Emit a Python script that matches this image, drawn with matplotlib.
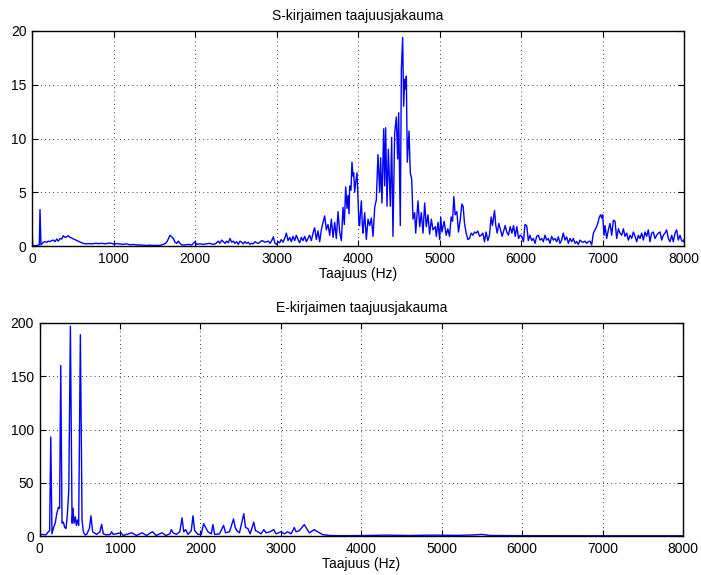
# plot.py
#
# Kaksi taajuusjakaumaa (S- ja E-kirjain) MATLAB-tyylisinä kuvina.
# Tallentaa kuvan tiedostoon out.png

import matplotlib
matplotlib.use("Agg")
import matplotlib.pyplot as plt

# ---------- S-kirjaimen spektri (luettu kuvasta) ----------
s_freq = [
    0, 8, 60, 90, 98, 110, 139, 160, 180, 200, 220, 240, 262, 282, 303, 323,
    344, 364, 384, 405, 425, 446, 466, 487, 507, 528, 548, 569, 589, 610, 630,
    650, 700, 740, 780, 820, 860, 900, 940, 977, 1000, 1040, 1080, 1120, 1160,
    1200, 1240, 1280, 1320, 1360, 1400, 1440, 1480, 1530, 1570, 1610, 1640,
    1660, 1693, 1715, 1735, 1755, 1775, 1796, 1815, 1840, 1880, 1920, 1960,
    2000, 2020, 2060, 2100, 2140, 2180, 2220, 2250, 2286, 2306, 2327, 2347,
    2368, 2388, 2409, 2429, 2450, 2470, 2490, 2511, 2531, 2552, 2572, 2593,
    2613, 2634, 2654, 2675, 2695, 2715, 2736, 2756, 2777, 2797, 2818, 2838,
    2859, 2879, 2900, 2920, 2941, 2961, 2981, 3002, 3018, 3039, 3059, 3080,
    3100, 3121, 3141, 3162, 3182, 3202, 3223, 3243, 3264, 3284, 3305, 3325,
    3346, 3366, 3387, 3407, 3428, 3448, 3468, 3489, 3509, 3530, 3550, 3571,
    3591, 3612, 3632, 3653, 3673, 3694, 3714, 3734, 3755, 3775, 3796, 3816,
    3832, 3849, 3865, 3877, 3890, 3898, 3914, 3926, 3939, 3947, 3959, 3971,
    3988, 4000, 4012, 4020, 4029, 4041, 4053, 4061, 4082, 4102, 4123, 4143,
    4164, 4184, 4205, 4225, 4245, 4266, 4278, 4294, 4315, 4327, 4339, 4356,
    4372, 4397, 4413, 4429, 4450, 4470, 4487, 4499, 4519, 4532, 4548, 4560,
    4573, 4585, 4593, 4605, 4626, 4642, 4659, 4675, 4695, 4708, 4736, 4757,
    4777, 4798, 4818, 4838, 4859, 4879, 4900, 4920, 4949, 4961, 4982, 5002,
    5015, 5030, 5057, 5082, 5102, 5123, 5143, 5160, 5176, 5192, 5213, 5233,
    5254, 5274, 5290, 5307, 5327, 5348, 5368, 5389, 5409, 5430, 5450, 5470,
    5491, 5511, 5532, 5552, 5572, 5593, 5613, 5634, 5650, 5675, 5691, 5708,
    5728, 5749, 5769, 5806, 5826, 5847, 5867, 5888, 5908, 5929, 5949, 5970,
    5990, 6010, 6030, 6049, 6070, 6090, 6110, 6131, 6151, 6172, 6192, 6213,
    6233, 6254, 6274, 6294, 6315, 6335, 6356, 6376, 6397, 6417, 6438, 6458,
    6478, 6499, 6519, 6540, 6560, 6581, 6601, 6622, 6642, 6663, 6683, 6704,
    6724, 6744, 6765, 6785, 6806, 6826, 6847, 6867, 6888, 6908, 6928, 6949,
    6961, 6977, 6990, 7002, 7018, 7031, 7051, 7072, 7092, 7113, 7133, 7154,
    7174, 7195, 7215, 7236, 7256, 7276, 7297, 7317, 7338, 7358, 7379, 7399,
    7420, 7440, 7460, 7481, 7501, 7522, 7542, 7562, 7583, 7603, 7624, 7644,
    7665, 7685, 7706, 7726, 7746, 7767, 7787, 7808, 7828, 7849, 7869, 7890,
    7910, 7930, 7951, 7971, 7992, 8000,
]
s_amp = [
    2.1, 0.0, 0.05, 0.1, 3.4, 0.1, 0.35, 0.4, 0.35, 0.45, 0.4, 0.5, 0.55, 0.4,
    0.65, 0.45, 0.7, 0.65, 0.95, 0.8, 0.85, 0.95, 0.8, 0.75, 0.65, 0.6, 0.5,
    0.45, 0.37, 0.3, 0.25, 0.2, 0.22, 0.2, 0.25, 0.22, 0.25, 0.2, 0.27, 0.25,
    0.18, 0.22, 0.18, 0.15, 0.2, 0.12, 0.14, 0.1, 0.1, 0.08, 0.05, 0.08, 0.05,
    0.06, 0.05, 0.15, 0.25, 0.45, 1.0, 0.85, 0.7, 0.35, 0.25, 0.45, 0.25, 0.1,
    0.1, 0.15, 0.1, 0.4, 0.15, 0.2, 0.15, 0.2, 0.25, 0.15, 0.2, 0.45, 0.25,
    0.55, 0.4, 0.25, 0.45, 0.3, 0.7, 0.35, 0.45, 0.25, 0.4, 0.15, 0.45, 0.35,
    0.2, 0.4, 0.25, 0.35, 0.15, 0.25, 0.2, 0.4, 0.3, 0.25, 0.35, 0.5, 0.45,
    0.35, 0.4, 0.45, 0.25, 0.5, 0.85, 0.25, 0.15, 0.4, 0.3, 0.6, 0.35, 0.7,
    1.2, 0.5, 0.8, 0.4, 0.9, 0.5, 1.0, 0.6, 0.3, 0.8, 0.5, 0.9, 0.4, 0.7, 1.0,
    0.5, 1.2, 1.7, 0.6, 1.4, 0.4, 1.5, 2.2, 2.8, 1.5, 2.0, 1.0, 2.5, 0.8, 2.2,
    0.7, 3.2, 1.3, 0.5, 3.6, 2.0, 5.5, 3.5, 4.7, 3.0, 5.6, 5.2, 7.8, 6.5, 6.8,
    5.0, 5.9, 6.8, 4.3, 2.0, 1.9, 3.0, 4.2, 2.0, 1.2, 3.1, 0.6, 2.5, 1.9, 2.6,
    0.9, 3.6, 4.3, 8.5, 5.0, 8.2, 4.0, 10.9, 5.6, 11.0, 3.7, 9.0, 3.7, 10.1,
    0.9, 10.5, 12.0, 8.1, 12.4, 1.9, 16.4, 19.4, 13.0, 15.5, 14.6, 15.8, 7.8,
    10.7, 6.8, 6.2, 2.5, 3.1, 1.2, 4.2, 1.8, 3.1, 1.2, 4.0, 1.8, 2.9, 1.1, 2.5,
    1.5, 1.8, 0.9, 2.2, 0.6, 2.7, 1.3, 2.3, 1.0, 1.6, 0.9, 2.7, 2.3, 4.6, 2.9,
    3.2, 1.3, 2.4, 3.9, 3.7, 2.1, 1.2, 0.6, 0.7, 1.2, 1.0, 1.3, 1.2, 1.4, 0.9,
    1.0, 1.2, 0.4, 1.3, 0.5, 1.0, 2.7, 1.9, 3.3, 1.9, 1.2, 2.1, 1.5, 0.9, 1.9,
    1.3, 1.0, 1.8, 1.2, 1.9, 0.9, 1.8, 0.7, 1.0, 0.9, 0.4, 2.0, 1.9, 0.5, 1.0,
    0.5, 0.7, 0.25, 0.9, 1.0, 0.55, 0.7, 0.4, 1.0, 0.55, 0.7, 0.25, 0.9, 0.55,
    0.7, 0.4, 0.85, 0.25, 0.55, 1.2, 0.55, 0.85, 0.25, 0.7, 0.4, 0.7, 0.25, 0.4,
    0.15, 0.55, 0.4, 0.35, 0.45, 0.25, 0.4, 0.45, 0.1, 1.2, 1.5, 1.8, 2.3, 2.7,
    2.9, 2.6, 2.9, 1.0, 1.9, 0.7, 1.5, 2.1, 1.0, 2.4, 2.3, 0.7, 1.6, 1.2, 1.0,
    1.6, 0.9, 1.2, 0.55, 1.0, 0.7, 1.3, 0.9, 0.4, 1.0, 0.7, 1.2, 0.55, 1.3, 0.9,
    1.5, 0.4, 1.2, 1.3, 0.7, 1.0, 1.2, 1.3, 0.55, 1.0, 1.2, 1.5, 0.7, 0.4, 1.0,
    0.4, 1.2, 1.5, 0.55, 1.0, 0.5, 0.4, 0.6,
]

# ---------- E-kirjaimen spektri (luettu kuvasta) ----------
e_freq = [
    0, 40, 80, 110, 126, 140, 155, 175, 195, 215, 235, 250, 264, 280, 297, 313,
    330, 347, 364, 384, 405, 417, 429, 446, 458, 471, 487, 508, 529, 545, 566,
    587, 620, 640, 660, 710, 752, 772, 793, 834, 880, 896, 917, 1012, 1041,
    1148, 1206, 1276, 1330, 1404, 1450, 1524, 1570, 1620, 1640, 1661, 1702,
    1744, 1772, 1793, 1817, 1846, 1887, 1908, 1929, 1970, 2011, 2040, 2065,
    2094, 2136, 2156, 2177, 2238, 2288, 2313, 2362, 2412, 2433, 2453, 2486,
    2540, 2561, 2590, 2619, 2664, 2685, 2714, 2755, 2788, 2817, 2866, 2912,
    2941, 3003, 3044, 3085, 3126, 3168, 3189, 3230, 3292, 3313, 3354, 3416,
    3457, 3520, 3600, 3700, 4000, 4300, 4600, 4900, 5200, 5400, 5500, 5600,
    6000, 7000, 8000,
]
e_amp = [
    1, 1.5, 1, 4, 5, 93, 2, 8, 12, 21, 27, 26, 160, 12, 13, 8, 7, 21, 43, 197,
    12, 26, 12, 18, 10, 15, 10, 189, 15, 4, 1, 1.5, 7, 19, 4, 1.5, 4, 11, 2, 1,
    1.5, 4, 1.5, 3, 0.5, 3, 0.5, 3, 0.5, 4, 0.5, 3, 0.5, 2, 6, 3, 1.5, 4, 17,
    4, 6, 1.5, 5, 19, 5, 1.5, 1.5, 11.6, 8, 4, 2, 10.7, 1.5, 2, 10, 3, 4, 16,
    8, 5, 3, 21, 8, 7, 2, 13, 5, 4, 2, 6, 3, 4, 6, 2, 4, 2, 4, 2, 8, 4, 5,
    10.7, 8, 3, 6, 4, 1.3, 0.5, 0.3, 0.4, 0.8, 0.5, 0.8, 0.6, 1.0, 1.5, 0.5,
    0.3, 0.2, 0.2,
]

x_ticks = [0, 1000, 2000, 3000, 4000, 5000, 6000, 7000, 8000]
s_yticks = [0, 5, 10, 15, 20]
e_yticks = [0, 50, 100, 150, 200]

FONT = "Liberation Sans"


def style_axes(ax, yticks):
    """MATLAB-tyyliset akselit: ruudukko pisteviivoin, tickit sisäänpäin."""
    ax.set_xlim(0, 8000)
    ax.set_xticks(x_ticks)
    ax.set_ylim(yticks[0], yticks[-1])
    ax.set_yticks(yticks)
    ax.grid(True, linestyle=(0, (1, 4)), color="black", linewidth=0.6)
    ax.tick_params(direction="in", top=True, right=True, length=4,
                   width=0.8, labelsize=10, pad=4)
    for lab in ax.get_xticklabels() + ax.get_yticklabels():
        lab.set_fontfamily(FONT)
    for sp in ax.spines.values():
        sp.set_linewidth(1.0)
    ax.set_xlabel("Taajuus (Hz)", fontsize=10, family=FONT, labelpad=1)


def main():
    fig = plt.figure(figsize=(7.01, 5.75), dpi=100)

    # ---------- Ylempi kuva: S ----------
    ax1 = fig.add_axes([32 / 701, 1 - 246 / 575, 652 / 701, 215 / 575])
    ax1.plot(s_freq, s_amp, color="#0000ff", linewidth=1.0)
    style_axes(ax1, s_yticks)
    ax1.set_title("S-kirjaimen taajuusjakauma", fontsize=10, family=FONT,
                  pad=8)

    # ---------- Alempi kuva: E ----------
    ax2 = fig.add_axes([39.5 / 701, 1 - 536 / 575, 643.5 / 701, 213 / 575])
    ax2.plot(e_freq, e_amp, color="#0000ff", linewidth=1.0)
    style_axes(ax2, e_yticks)
    ax2.set_title("E-kirjaimen taajuusjakauma", fontsize=10, family=FONT,
                  pad=8)

    fig.savefig("out.png", dpi=100)
    plt.close(fig)


if __name__ == "__main__":
    main()
